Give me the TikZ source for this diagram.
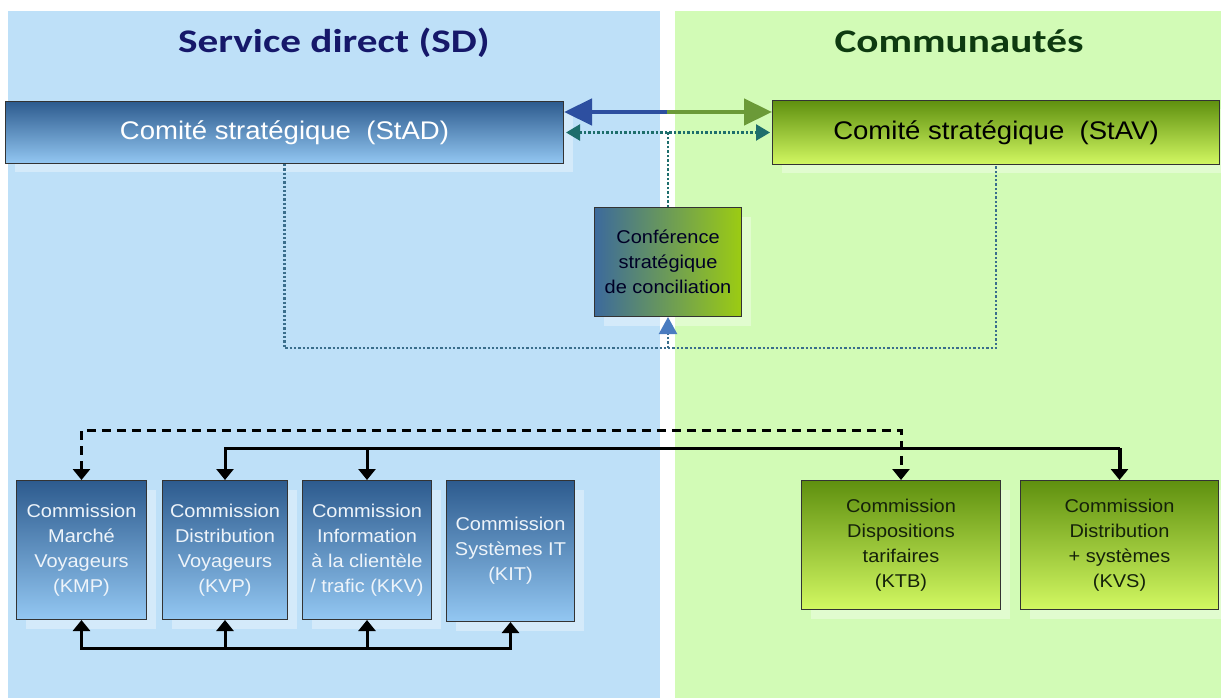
\documentclass[tikz,border=0pt]{standalone}
\usepackage{fontspec}
\setmainfont{Liberation Sans}[FakeStretch=1.08]
\newfontfamily\titlefont{Carlito}[FakeStretch=1.25]
\usetikzlibrary{arrows.meta,shadows}

\definecolor{panelblue}{HTML}{BEE0F8}
\definecolor{panelgreen}{HTML}{D2FBB6}
\definecolor{bluetop}{HTML}{2D5B8E}
\definecolor{bluebot}{HTML}{93C7F2}
\definecolor{greentop}{HTML}{5F900F}
\definecolor{greenbot}{HTML}{D2F862}
\definecolor{confleft}{HTML}{3C6A9C}
\definecolor{confright}{HTML}{9CCC12}
\definecolor{navytitle}{HTML}{16186A}
\definecolor{greentitle}{HTML}{0E3A10}
\definecolor{tealdot}{HTML}{1E6E6C}
\definecolor{loopdot}{HTML}{3A6E8C}
\definecolor{linkblue}{HTML}{2D4FA0}
\definecolor{linkgreen}{HTML}{6B9A38}
\definecolor{uparrow}{HTML}{4A7CC0}
\definecolor{bluetext}{HTML}{EEF4FA}
\definecolor{greentext}{HTML}{15220A}

\tikzset{
  boxshadow/.style={general shadow={fill=white, fill opacity=0.35,
      shadow xshift=9pt, shadow yshift=-9pt}},
  bluebox/.style={draw=black!80, line width=1pt, top color=bluetop,
      bottom color=bluebot, text=bluetext, align=center, inner sep=0pt,
      anchor=north west, boxshadow},
  greenbox/.style={draw=black!80, line width=1pt, top color=greentop,
      bottom color=greenbot, text=greentext, align=center, inner sep=0pt,
      anchor=north west, boxshadow},
  smalltext/.style={font=\fontsize{18.5}{25}\selectfont},
  bigtext/.style={font=\fontsize{25.5}{30}\selectfont},
  paneltitle/.style={font=\titlefont\bfseries\fontsize{33}{38}\selectfont, anchor=base},
  blk/.tip={Triangle[length=11pt,width=17pt]},
  link/.style={draw=black, line width=3pt},
}

\begin{document}
\begin{tikzpicture}[x=1pt,y=-1pt]
\useasboundingbox (0,0) rectangle (1221,698);
\fill[white] (0,0) rectangle (1221,698);

% the two organisational halves
\fill[panelblue] (8,11) rectangle (660,698);
\fill[panelgreen] (675,11) rectangle (1221,698);

\node[paneltitle, text=navytitle] (tsd) at (334,53) {Service direct (SD)};
\node[paneltitle, text=greentitle] (tcom) at (959,53) {Communautés};

% strategic committees
\node[bluebox, bigtext, text=white, minimum width=558pt, minimum height=62pt]
  (stad) at (5,101) {Comité stratégique \ (StAD)};
\node[greenbox, bigtext, text=black, minimum width=447pt, minimum height=64pt]
  (stav) at (772,100) {Comité stratégique \ (StAV)};

% conciliation conference
\node[draw=black!80, line width=1pt, left color=confleft, right color=confright,
      text=black!85!blue, align=center, inner sep=0pt, anchor=north west,
      smalltext, boxshadow, minimum width=147pt, minimum height=109pt]
  (conf) at (594,207) {Conférence\\stratégique\\de conciliation};

% commissions
\node[bluebox, smalltext, minimum width=130pt, minimum height=139pt]
  (kmp) at (16,480) {Commission\\Marché\\Voyageurs\\(KMP)};
\node[bluebox, smalltext, minimum width=125pt, minimum height=139pt]
  (kvp) at (162,480) {Commission\\Distribution\\Voyageurs\\(KVP)};
\node[bluebox, smalltext, minimum width=129pt, minimum height=139pt]
  (kkv) at (302,480) {Commission\\Information\\à la clientèle\\/ trafic (KKV)};
\node[bluebox, smalltext, minimum width=128pt, minimum height=141pt]
  (kit) at (446,480) {Commission\\Systèmes IT\\(KIT)};
\node[greenbox, smalltext, minimum width=199pt, minimum height=129pt]
  (ktb) at (801,480) {Commission\\Dispositions\\tarifaires\\(KTB)};
\node[greenbox, smalltext, minimum width=198pt, minimum height=129pt]
  (kvs) at (1020,480) {Commission\\Distribution\\+ systèmes\\(KVS)};

% link between the committees
\coordinate (mid) at (667,112);
\draw[linkblue, line width=4.5pt, -{Triangle[length=28pt,width=26pt]}]
  (mid) -- (stad.east |- mid);
\draw[linkgreen, line width=4.5pt, -{Triangle[length=28pt,width=26pt]}]
  (mid) -- (stav.west |- mid);
\draw[tealdot, line width=2.5pt, dash pattern=on 2.5pt off 2pt,
      {Triangle[length=14pt,width=16pt]}-{Triangle[length=14pt,width=16pt]}]
  ([xshift=2pt]stad.east) -- ([xshift=-2pt]stav.west);
\draw[tealdot, line width=2.5pt, dash pattern=on 2.5pt off 2pt]
  (conf.north) -- (conf.north |- stad.east);

% escalation loop to the conference
\coordinate (loopy) at (0,348);
\draw[loopdot, line width=2.3pt, dash pattern=on 2.3pt off 2pt]
  (stad.south) -- (stad.south |- loopy)
  -- (stav.south |- loopy) -- (stav.south);
\draw[loopdot, line width=2.3pt, dash pattern=on 2.3pt off 2pt,
      -{Triangle[length=17pt,width=18pt,fill=uparrow,color=uparrow]}]
  (conf.south |- loopy) -- (conf.south);

% links between commissions
\coordinate (dashy) at (0,430);
\coordinate (solidy) at (0,448);
\coordinate (boty) at (0,648);
\draw[link, dash pattern=on 9pt off 6pt, blk-blk]
  (kmp.north) -- (kmp.north |- dashy) -- (ktb.north |- dashy) -- (ktb.north);
\draw[link, blk-]
  (kvp.north) -- (kvp.north |- solidy) -- (kvs.north |- solidy);
\draw[link, line width=4pt, -blk] (kvs.north |- solidy) -- (kvs.north);
\draw[link, -blk] (kkv.north |- solidy) -- (kkv.north);
\draw[link, blk-blk]
  (kmp.south) -- (kmp.south |- boty) -- (kit.south |- boty) -- (kit.south);
\draw[link, -blk] (kvp.south |- boty) -- (kvp.south);
\draw[link, -blk] (kkv.south |- boty) -- (kkv.south);
\end{tikzpicture}
\end{document}
